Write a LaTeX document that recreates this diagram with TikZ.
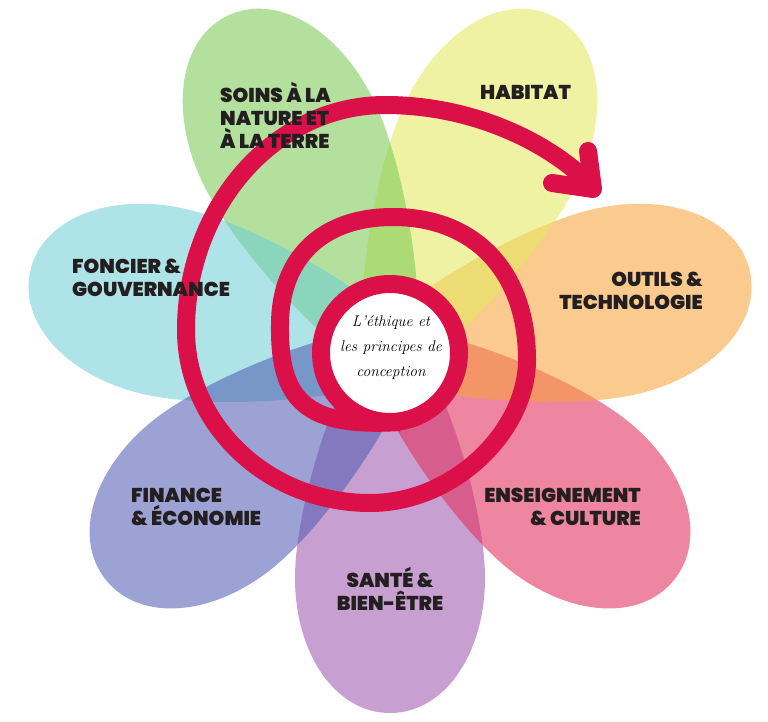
\documentclass[tikz,border=0pt]{standalone}
\usepackage{fontspec}
\newfontfamily\petalfont{Poppins Black}
\definecolor{crimson}{RGB}{220,16,72}
\definecolor{labcol}{RGB}{35,31,32}
\definecolor{sante}{RGB}{158,87,174}
\definecolor{enseig}{RGB}{227,43,90}
\definecolor{outils}{RGB}{246,161,58}
\definecolor{habitat}{RGB}{228,233,94}
\definecolor{soins}{RGB}{121,201,81}
\definecolor{foncier}{RGB}{112,206,215}
\definecolor{finance}{RGB}{81,94,179}
\tikzset{
  lab/.style    = {font=\petalfont\fontsize{20}{23}\selectfont, text=labcol,
                   inner sep=0pt},
  spir/.style   = {draw=crimson, line width=18pt},
  core/.style   = {circle, draw=crimson, line width=18pt, fill=white,
                   minimum size=138pt, inner sep=0pt},
}
\begin{document}
\begin{tikzpicture}[x=1pt, y=-1pt]
\useasboundingbox (0,0) rectangle (768,722);
\coordinate (ctr) at (390,353);
% petals, drawn from the bottom one round to the left
\foreach \ang/\len/\col in {0/1/sante, 51.43/1.01/enseig, 102.86/1.025/outils,
                            154.29/1.04/habitat, 205.71/1.04/soins,
                            257.14/1.025/foncier, 308.57/1.01/finance}
  \fill[\col, fill opacity=.57, shift={(ctr)}, rotate=\ang, yscale=\len]
    (0,-40) .. controls (48,0) and (95,150) .. (95,225)
    .. controls (95,300) and (55,360) .. (0,360)
    .. controls (-55,360) and (-95,300) .. (-95,225)
    .. controls (-95,150) and (-48,0) .. (0,-40) -- cycle;
% spiral
\draw[spir] (400,422) .. controls (305,428) and (279,400) .. (280,325)
  .. controls (280,258) and (322,217) .. (393,217)
  .. controls (475,217) and (527,272) .. (527,360)
  .. controls (527,430) and (455,503) .. (370,503)
  .. controls (268,503) and (186,425) .. (186,330)
  .. controls (186,206) and (275,105) .. (385,105)
  .. controls (470,105) and (545,140) .. (588,182);
\draw[spir, line cap=round, line join=round] (588,151) -- (593,189) -- (552,183);
\node[core] (ethic) at (ctr) {};
\node[align=center, font=\itshape\fontsize{15.5}{25}\selectfont, inner sep=0pt]
  (ethtxt) at (391,348) {L’éthique et\\les principes de\\conception};
% labels
\node[lab, align=left, anchor=north west] (soinslbl) at (220,82)
  {SOINS À LA\\NATURE ET\\À LA TERRE};
\node[lab, anchor=base west] (habitatlbl) at (480,100) {HABITAT};
\node[lab, align=right, anchor=north east] (outilslbl) at (703,272)
  {OUTILS \&\\TECHNOLOGIE};
\node[lab, align=right, anchor=north east] (enseiglbl) at (641,488)
  {ENSEIGNEMENT\\\& CULTURE};
\node[lab, align=center, anchor=north] (santelbl) at (390,567)
  {SANTÉ \&\\BIEN-ÊTRE};
\node[lab, align=left, anchor=north west] (financelbl) at (131,488)
  {FINANCE\\\& ÉCONOMIE};
\node[lab, align=left, anchor=north west] (foncierlbl) at (72,259)
  {FONCIER \&\\GOUVERNANCE};
\end{tikzpicture}
\end{document}
